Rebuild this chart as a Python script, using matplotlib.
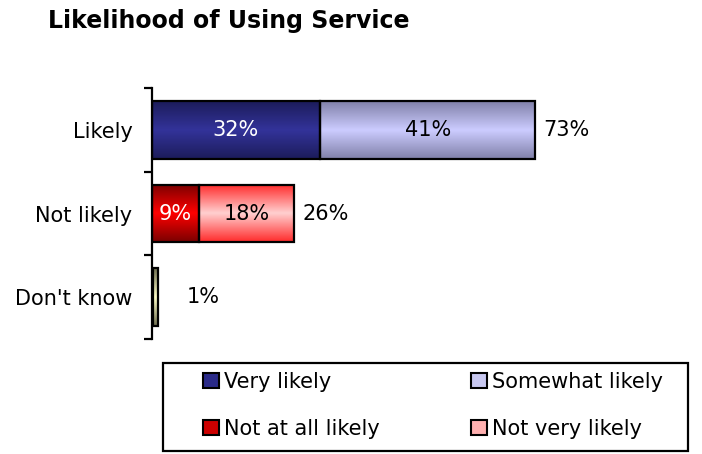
import numpy as np
import matplotlib
matplotlib.use("Agg")
import matplotlib.pyplot as plt
from matplotlib.colors import LinearSegmentedColormap
from matplotlib.patches import Patch, Rectangle

plt.rcParams['font.family'] = ['DejaVu Sans']

# Data
categories = ["Likely", "Not likely", "Don't know"]
first_segment = [32, 9, 1]          # Very likely / Not at all likely / Don't know
second_segment = [41, 18, 0]        # Somewhat likely / Not very likely
first_labels = ["32%", "9%", ""]
second_labels = ["41%", "18%", ""]
total_labels = ["73%", "26%", "1%"]
legend_names = ["Very likely", "Somewhat likely", "Not at all likely", "Not very likely"]

# Gradient colours per segment: (edge shade, centre shade)
first_grad = [("#1c1c5a", "#33339a"), ("#7a0000", "#ff0000"), ("#6e6e50", "#ffffc8")]
second_grad = [("#8080a8", "#ccccff"), ("#ff2a2a", "#ffd0d0"), ("#ffffff", "#ffffff")]
legend_colors = ["#2a2a88", "#c8c8f0", "#cc0000", "#ffb0b0"]

fig = plt.figure(figsize=(7.02, 4.54), dpi=100)
W, H = 702, 454
ax = fig.add_axes([152 / W, 1 - 339 / H, 525 / W, 251 / H])

y = np.arange(len(categories))
bar_h = 0.69


def gradient_fill(ax, patch, c_edge, c_mid):
    x0, y0 = patch.get_x(), patch.get_y()
    w, h = patch.get_width(), patch.get_height()
    if w <= 0:
        return
    cmap = LinearSegmentedColormap.from_list("g", [c_edge, c_mid, c_edge])
    grad = np.linspace(0, 1, 256).reshape(-1, 1)
    im = ax.imshow(grad, cmap=cmap, aspect="auto", extent=(x0, x0 + w, y0 + h, y0),
                   origin="upper", zorder=2, interpolation="bicubic")
    im.set_clip_path(patch)
    patch.set_facecolor("none")


bars1 = ax.barh(y, first_segment, height=bar_h, edgecolor="black", linewidth=1.6, zorder=3)
bars2 = ax.barh(y, second_segment, left=first_segment, height=bar_h,
                edgecolor="black", linewidth=1.6, zorder=3)
# Nudge the tiny "Don't know" bar just off the axis line
bars1[2].set_x(0.2)
for i, p in enumerate(bars1):
    gradient_fill(ax, p, *first_grad[i])
for i, p in enumerate(bars2):
    if second_segment[i] > 0:
        gradient_fill(ax, p, *second_grad[i])
    else:
        p.set_visible(False)

fs = 15
for i in range(len(categories)):
    if first_labels[i]:
        ax.text(first_segment[i] / 2, y[i], first_labels[i], ha="center", va="center",
                color="white", fontsize=fs, zorder=5)
    if second_labels[i]:
        ax.text(first_segment[i] + second_segment[i] / 2, y[i], second_labels[i],
                ha="center", va="center", color="black", fontsize=fs, zorder=5)
    total = first_segment[i] + second_segment[i]
    ax.annotate(total_labels[i], xy=(max(total, 5.0), y[i]), xytext=(6, 0),
                textcoords="offset points", ha="left", va="center",
                color="black", fontsize=fs, zorder=5)

ax.set_xlim(0, 100)
ax.set_ylim(len(categories) - 0.5, -0.5)
ax.set_yticks(y)
ax.set_yticklabels(categories, fontsize=fs)
ax.tick_params(axis="y", length=0, pad=14)
ax.set_yticks(np.arange(-0.5, len(categories), 1.0), minor=True)
ax.tick_params(axis="y", which="minor", length=6, width=1.6, direction="out")
ax.set_xticks([])
for s in ["top", "right", "bottom"]:
    ax.spines[s].set_visible(False)
ax.spines["left"].set_linewidth(1.6)
ax.patch.set_alpha(0)

fig.text(48 / W, 1 - 21 / H, "Likelihood of Using Service", fontsize=17,
         fontweight="bold", ha="left", va="center")

# Legend box
fig.patches.append(Rectangle((163 / W, 1 - 451 / H), 525 / W, 88 / H,
                             transform=fig.transFigure, facecolor="white",
                             edgecolor="black", linewidth=1.6, zorder=0))
handles = [Patch(facecolor=c, edgecolor="black", linewidth=1.5) for c in legend_colors]
order = [0, 2, 1, 3]
leg = fig.legend([handles[k] for k in order], [legend_names[k] for k in order],
                 loc="upper left", ncol=2,
                 bbox_to_anchor=(203 / W, 1 - 372 / H),
                 bbox_transform=fig.transFigure, fontsize=fs, frameon=False,
                 handlelength=0.75, handleheight=0.75, handletextpad=0.25,
                 borderpad=0, labelspacing=1.3, borderaxespad=0, columnspacing=4.4)

fig.savefig("out.png", dpi=100)
